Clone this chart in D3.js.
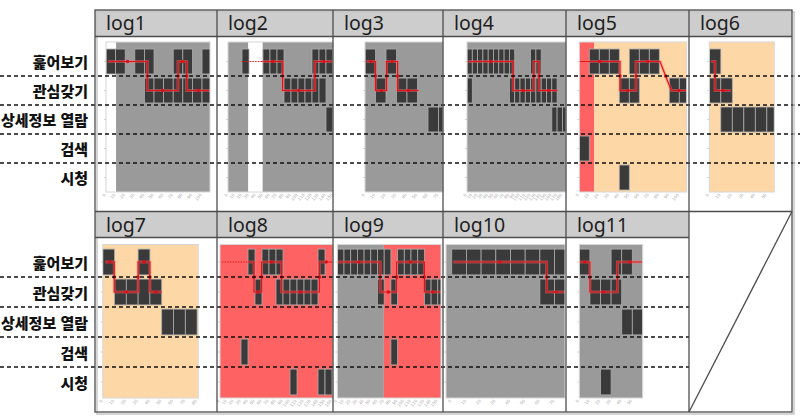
<!DOCTYPE html>
<html lang="ko">
<head>
<meta charset="UTF-8">
<title>로그별 행동 흐름</title>
<script src="https://cdn.jsdelivr.net/npm/d3@7"></script>
<style>
  body { margin: 0; background: #fff; }
  svg { display: block; }
</style>
</head>
<body>
<svg width="800" height="419"></svg>
<script>
// 행동 단계 (위에서 아래로)
const categories = ["훑어보기", "관심갖기", "상세정보 열람", "검색", "시청"];
const logNames = ["log1", "log2", "log3", "log4", "log5", "log6", "log7", "log8", "log9", "log10", "log11"];

// 각 로그에서 보이는 구간 (슬롯 단위)
const xDomains = [[0, 10.83], [0, 15], [0, 7.43], [0, 18.68], [0, 10.74], [0, 5.65],
                  [0, 8.1], [0, 16.14], [0, 15.48], [-0.39, 7.71], [0, 5.98]];

// 배경 구간 [시작, 끝, 종류]
const bgRegions = [
  [[0, 1.05, "white"], [1.05, 10.83, "grey"]],
  [[0, 2.9, "grey"], [2.9, 4.95, "white"], [4.95, 15, "grey"]],
  [[0, 7.43, "grey"]],
  [[0, 18.68, "grey"]],
  [[0, 1.5, "red"], [1.5, 10.74, "orange"]],
  [[0, 5.65, "orange"]],
  [[0, 8.1, "orange"]],
  [[0, 16.14, "red"]],
  [[0, 6.95, "grey"], [6.95, 15.48, "red"]],
  [[-0.39, 7.71, "grey"]],
  [[0, 5.98, "grey"]]
];

// 카테고리별 막대가 있는 슬롯 [훑어보기, 관심갖기, 상세정보 열람, 검색, 시청]
const barSlots = [
  [[0, 1, 3, 4, 7, 8, 10], [4, 5, 6, 7, 8, 9, 10], [], [], []],
  [[2, 5, 6, 7, 12, 13, 14], [8, 9, 10, 11, 12, 13], [14], [], []],
  [[0, 2], [1, 3, 4], [6, 7], [], []],
  [[0, 1, 2, 3, 4, 5, 6, 7, 8, 12, 13], [0, 8, 9, 10, 11, 12, 13, 14, 15, 16], [16, 17, 18], [], []],
  [[1, 2, 3, 5, 6, 7], [4, 5, 9, 10], [], [0], [4]],
  [[0], [0, 1], [1, 2, 3, 4, 5], [], []],
  [[0, 3], [1, 2, 3, 4], [5, 6, 7], [], []],
  [[4, 6, 7, 8, 14], [5, 8, 9, 10, 11, 12, 13], [], [3], [10, 14, 15]],
  [[0, 1, 2, 3, 4, 5, 6, 7, 9, 10, 11, 12], [6, 8, 13, 14, 15], [], [8], []],
  [[0, 1, 2, 3, 4, 5, 6, 7], [6, 7], [], [], []],
  [[0, 3, 4], [1, 2, 3], [4, 5], [], [2]]
];

// 빨간 흐름선 [슬롯, 단계]
const flowPaths = [
  [[0.2, 0], [4.3, 0], [4.3, 1], [7.5, 1], [7.5, 0], [8.4, 0], [8.4, 1], [10.83, 1]],
  [[4.95, 0], [7.8, 0], [7.8, 1], [12.4, 1], [12.4, 0], [15, 0]],
  [[0.15, 0], [1.0, 0], [1.0, 1], [2.05, 1], [2.05, 0], [3.1, 0], [3.1, 1], [5.1, 1]],
  [[0.25, 0], [8.7, 0], [8.7, 1], [12.6, 1], [12.6, 0], [13.6, 0], [13.6, 1], [17.1, 1]],
  [[0, 0], [4.07, 0], [4.07, 1], [5.67, 1], [5.67, 0], [8.07, 0], [9.2, 1], [10.74, 1]],
  [[0.15, 0], [0.5, 0], [0.5, 1], [1.87, 1]],
  [[0.2, 0], [0.98, 0], [0.98, 1], [3.0, 1], [3.0, 0], [4.0, 0], [4.0, 1], [5.0, 1]],
  [[4.05, 0], [4.86, 0], [4.86, 1], [5.95, 1], [5.95, 0], [8.8, 0], [8.8, 1], [14.2, 1], [14.2, 0], [16.14, 0]],
  [[0, 0], [6.4, 0], [6.4, 1], [8.85, 1], [8.85, 0], [13.0, 0], [13.0, 1], [15.48, 1]],
  [[0.1, 0], [6.46, 0], [6.46, 1], [7.71, 1]],
  [[0, 0], [1.0, 0], [1.0, 1], [3.6, 1], [3.6, 0], [5.98, 0]]
];

// 점선으로 시작하는 구간 [시작, 끝]
const dottedLeads = [null, [1.95, 4.95], null, null, null, null, null, [0.25, 4.05], null, null, null];

// ---- layout ----
const svg = d3.select("svg");
const colEdges = [95, 217, 333, 443, 566, 689, 792];
const rows = [
  { top: 10, head: 36.5, bottom: 211.5, plotTop: 42, plotBottom: 192, c0: 61.5, step: 29, dashEnd: 800 },
  { top: 211.5, head: 237.5, bottom: 412, plotTop: 244.5, plotBottom: 398, c0: 262, step: 30, dashEnd: 689 }
];
const plotX = [[106, 210], [228, 333], [365, 443], [467, 566], [579.3, 686.7], [709.3, 774.3],
               [102.7, 198.3], [220, 333], [337.3, 441], [446, 565], [579.3, 642.7]];
const bgColor = d3.scaleOrdinal()
  .domain(["grey", "white", "orange", "red"])
  .range(["#9a9a9a", "#ffffff", "#fed7a6", "#fe6262"]);

const defs = svg.append("defs");

// header cells
rows.forEach((r, ri) => {
  const nCols = ri === 0 ? 6 : 5;
  for (let c = 0; c < nCols; c++) {
    svg.append("rect")
      .attr("x", colEdges[c]).attr("y", r.top)
      .attr("width", colEdges[c + 1] - colEdges[c]).attr("height", r.head - r.top)
      .attr("fill", "#cdcdcd");
    svg.append("text")
      .attr("x", colEdges[c] + 11).attr("y", r.top + 20)
      .attr("font-family", "'Noto Sans', sans-serif")
      .attr("font-size", 19.5).attr("fill", "#1e1e1e")
      .text(logNames[ri * 6 + c]);
  }
});

// panels
logNames.forEach((name, i) => {
  const row = rows[i < 6 ? 0 : 1];
  const y = d3.scaleLinear().domain([0, 4]).range([row.c0, row.c0 + 4 * row.step]);
  const x = d3.scaleLinear().domain(xDomains[i]).range(plotX[i]);
  const [x0, x1] = plotX[i];
  const g = svg.append("g");

  defs.append("clipPath").attr("id", "clip" + i)
    .append("rect").attr("x", x0).attr("y", row.plotTop)
    .attr("width", x1 - x0).attr("height", row.plotBottom - row.plotTop);

  const inner = g.append("g").attr("clip-path", `url(#clip${i})`);

  inner.selectAll("rect.bg").data(bgRegions[i]).join("rect")
    .attr("class", "bg")
    .attr("x", d => x(d[0])).attr("width", d => x(d[1]) - x(d[0]))
    .attr("y", row.plotTop).attr("height", row.plotBottom - row.plotTop)
    .attr("fill", d => bgColor(d[2]));

  const bars = barSlots[i].flatMap((slots, cat) => slots.map(s => ({ cat, s })));
  inner.selectAll("rect.bar").data(bars).join("rect")
    .attr("class", "bar")
    .attr("x", d => x(d.s)).attr("width", d => x(d.s + 1) - x(d.s))
    .attr("y", d => y(d.cat) - row.step * 0.43).attr("height", row.step * 0.86)
    .attr("fill", "#3a3a3a").attr("stroke", "#ababab").attr("stroke-width", 0.8);

  // plot frame
  g.append("rect")
    .attr("x", x0).attr("y", row.plotTop)
    .attr("width", x1 - x0).attr("height", row.plotBottom - row.plotTop)
    .attr("fill", "none").attr("stroke", "#d6d6d6").attr("stroke-width", 1);

  // y ticks
  g.selectAll("line.yt").data(categories).join("line")
    .attr("class", "yt")
    .attr("x1", x0 - 2).attr("x2", x0)
    .attr("y1", (d, k) => y(k)).attr("y2", (d, k) => y(k))
    .attr("stroke", "#bbb").attr("stroke-width", 0.6);

  // x tick labels
  const ticks = d3.range(Math.ceil(xDomains[i][0]), Math.floor(xDomains[i][1]) + 1);
  g.selectAll("text.xt").data(ticks).join("text")
    .attr("class", "xt")
    .attr("transform", d => `translate(${x(d)},${row.plotBottom + 3}) rotate(-50)`)
    .attr("text-anchor", "end")
    .attr("font-family", "'DejaVu Sans', sans-serif")
    .attr("font-size", 4.2).attr("fill", "#a8a8a8")
    .text(d => d * 10);

  // flow line
  const line = d3.line().x(d => x(d[0])).y(d => y(d[1]));
  const lineG = inner.append("g");
  if (dottedLeads[i]) {
    lineG.append("line")
      .attr("x1", x(dottedLeads[i][0])).attr("x2", x(dottedLeads[i][1]))
      .attr("y1", y(0)).attr("y2", y(0))
      .attr("stroke", "#e01a1a").attr("stroke-width", 1).attr("stroke-dasharray", "1.5,1.2");
  }
  lineG.append("path").attr("d", line(flowPaths[i]))
    .attr("fill", "none").attr("stroke", "#ff6b6b").attr("stroke-opacity", 0.45).attr("stroke-width", 3);
  lineG.append("path").attr("d", line(flowPaths[i]))
    .attr("fill", "none").attr("stroke", "#e0141a").attr("stroke-width", 1.2);
  const mids = d3.pairs(flowPaths[i])
    .map(([a, b]) => [(x(a[0]) + x(b[0])) / 2, (y(a[1]) + y(b[1])) / 2, Math.hypot(x(b[0]) - x(a[0]), y(b[1]) - y(a[1]))])
    .filter(d => d[2] > 7);
  lineG.selectAll("circle").data(mids).join("circle")
    .attr("cx", d => d[0]).attr("cy", d => d[1]).attr("r", 1.7)
    .attr("fill", "#d8101a");
});

// category labels and dashed separators
rows.forEach(r => {
  const y = d3.scaleLinear().domain([0, 4]).range([r.c0, r.c0 + 4 * r.step]);
  svg.selectAll(null).data(categories).join("text")
    .attr("x", 88).attr("y", (d, k) => y(k))
    .attr("text-anchor", "end").attr("dominant-baseline", "central")
    .attr("font-family", "'Noto Sans CJK KR', sans-serif")
    .attr("font-weight", 900).attr("font-size", 15).attr("fill", "#111")
    .text(d => d);
  svg.selectAll(null).data(d3.range(categories.length - 1)).join("line")
    .attr("x1", 0).attr("x2", r.dashEnd)
    .attr("y1", k => y(k + 0.5)).attr("y2", k => y(k + 0.5))
    .attr("stroke", "#111").attr("stroke-width", 1.6).attr("stroke-dasharray", "4,3");
});

// table grid
const grid = svg.append("g").attr("fill", "none").attr("stroke", "#4d4d4d").attr("stroke-width", 1.3);
grid.append("rect").attr("x", 97).attr("y", 12).attr("width", 697).attr("height", 402)
  .attr("stroke", "#c8c8c8").attr("stroke-width", 1.5);
grid.append("rect").attr("x", 95).attr("y", 10).attr("width", 697).attr("height", 402).attr("fill", "none");
[rows[0].head, rows[0].bottom].forEach(yy =>
  grid.append("line").attr("x1", 95).attr("x2", 792).attr("y1", yy).attr("y2", yy));
grid.append("line").attr("x1", 95).attr("x2", 689).attr("y1", rows[1].head).attr("y2", rows[1].head);
colEdges.slice(1, -1).forEach(xx =>
  grid.append("line").attr("x1", xx).attr("x2", xx).attr("y1", 10).attr("y2", 412));
grid.append("line").attr("x1", 689).attr("y1", 412).attr("x2", 792).attr("y2", rows[1].top);
</script>
</body>
</html>
